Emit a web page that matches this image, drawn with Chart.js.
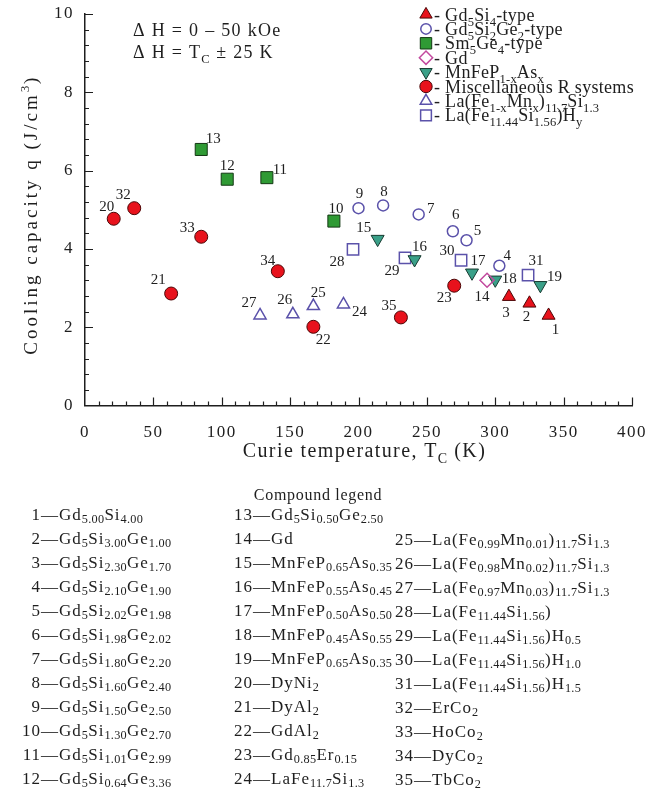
<!DOCTYPE html>
<html>
<head>
<meta charset="utf-8">
<script src="https://cdn.jsdelivr.net/npm/chart.js@4.4.1/dist/chart.umd.min.js"></script>
<style>
  body { margin: 0; background: #fff; }
  #wrap { position: relative; width: 646px; height: 470px; }
  #compounds { position: absolute; left: 0; top: 0; width: 646px; height: 800px; font-family: 'Liberation Serif', serif; color: #1e1e1e; pointer-events: none; }
  #compounds .title { position: absolute; left: 0; width: 636px; top: 486px; text-align: center; font-size: 16px; letter-spacing: 0.7px; }
  #compounds .row { position: absolute; height: 24px; line-height: 24px; font-size: 17px; letter-spacing: 1px; white-space: nowrap; }
  #compounds .num { display: inline-block; width: 20px; text-align: right; }
  #compounds sub { font-size: 72%; line-height: 0; vertical-align: -0.28em; letter-spacing: 0.3px; }
</style>
</head>
<body>
<div id="wrap"><canvas id="chart"></canvas></div>
<div id="compounds"></div>
<script>
// [compound number, Curie temperature (K), cooling capacity q (J/cm3)]
const gd5si4Type = [[1, 339, 2.30], [2, 325, 2.61], [3, 310, 2.78]];
const gd5si2ge2Type = [[4, 303, 3.57], [5, 279, 4.22], [6, 269, 4.45], [7, 244, 4.88], [8, 218, 5.11], [9, 200, 5.04]];
const sm5ge4Type = [[10, 182, 4.71], [11, 133, 5.82], [12, 104, 5.78], [13, 85, 6.54]];
const gdMetal = [[14, 294, 3.20]];
const mnFePAs = [[15, 214, 4.25], [16, 241, 3.73], [17, 283, 3.39], [18, 300, 3.21], [19, 333, 3.07]];
const miscR = [[20, 21, 4.77], [21, 63, 2.86], [22, 167, 2.01], [23, 270, 3.06], [32, 36, 5.04], [33, 85, 4.31], [34, 141, 3.43], [35, 231, 2.25]];
const laFeMnSi = [[24, 189, 2.58], [25, 167, 2.54], [26, 152, 2.33], [27, 128, 2.30]];
const laFeSiH = [[28, 196, 3.99], [29, 234, 3.77], [30, 275, 3.71], [31, 324, 3.33]];

const seriesNames = [
  'Gd_{5}Si_{4}-type',
  'Gd_{5}Si_{2}Ge_{2}-type',
  'Sm_{5}Ge_{4}-type',
  'Gd',
  'MnFeP_{1-x}As_{x}',
  'Miscellaneous R systems',
  'La(Fe_{1-x}Mn_{x})_{11.7}Si_{1.3}',
  'La(Fe_{11.44}Si_{1.56})H_{y}'
];

const fieldNotes = ['Δ H = 0 – 50 kOe', 'Δ H = T_{C} ± 25 K'];
const xTitle = 'Curie temperature, T_{C} (K)';
const yTitle = 'Cooling capacity q (J/cm^{3})';

const compoundNames = [
  'Gd_{5.00}Si_{4.00}', 'Gd_{5}Si_{3.00}Ge_{1.00}', 'Gd_{5}Si_{2.30}Ge_{1.70}', 'Gd_{5}Si_{2.10}Ge_{1.90}',
  'Gd_{5}Si_{2.02}Ge_{1.98}', 'Gd_{5}Si_{1.98}Ge_{2.02}', 'Gd_{5}Si_{1.80}Ge_{2.20}', 'Gd_{5}Si_{1.60}Ge_{2.40}',
  'Gd_{5}Si_{1.50}Ge_{2.50}', 'Gd_{5}Si_{1.30}Ge_{2.70}', 'Gd_{5}Si_{1.01}Ge_{2.99}', 'Gd_{5}Si_{0.64}Ge_{3.36}',
  'Gd_{5}Si_{0.50}Ge_{2.50}', 'Gd', 'MnFeP_{0.65}As_{0.35}', 'MnFeP_{0.55}As_{0.45}',
  'MnFeP_{0.50}As_{0.50}', 'MnFeP_{0.45}As_{0.55}', 'MnFeP_{0.65}As_{0.35}', 'DyNi_{2}',
  'DyAl_{2}', 'GdAl_{2}', 'Gd_{0.85}Er_{0.15}', 'LaFe_{11.7}Si_{1.3}',
  'La(Fe_{0.99}Mn_{0.01})_{11.7}Si_{1.3}', 'La(Fe_{0.98}Mn_{0.02})_{11.7}Si_{1.3}', 'La(Fe_{0.97}Mn_{0.03})_{11.7}Si_{1.3}',
  'La(Fe_{11.44}Si_{1.56})', 'La(Fe_{11.44}Si_{1.56})H_{0.5}', 'La(Fe_{11.44}Si_{1.56})H_{1.0}',
  'La(Fe_{11.44}Si_{1.56})H_{1.5}', 'ErCo_{2}', 'HoCo_{2}', 'DyCo_{2}', 'TbCo_{2}'
];

const FONT = "'Liberation Serif', 'Times New Roman', serif";
const INK = '#1e1e1e';

// marker styles, one per series
const seriesStyles = [
  { pointStyle: 'triangle', rotation: 0, radius: 7.5, fill: '#e8121c', edge: '#4a0606', width: 1 },
  { pointStyle: 'circle', rotation: 0, radius: 5.5, fill: 'rgba(0,0,0,0)', edge: '#5b52aa', width: 1.5 },
  { pointStyle: 'rect', rotation: 0, radius: 8.5, fill: '#2f9a34', edge: '#143814', width: 1 },
  { pointStyle: 'rectRot', rotation: 0, radius: 7, fill: 'rgba(0,0,0,0)', edge: '#c24a9e', width: 1.5 },
  { pointStyle: 'triangle', rotation: 180, radius: 7.5, fill: '#3aa088', edge: '#173a30', width: 1 },
  { pointStyle: 'circle', rotation: 0, radius: 6.5, fill: '#e8121c', edge: '#4a0606', width: 1 },
  { pointStyle: 'triangle', rotation: 0, radius: 7, fill: 'rgba(0,0,0,0)', edge: '#5b52aa', width: 1.5 },
  { pointStyle: 'rect', rotation: 0, radius: 8, fill: 'rgba(0,0,0,0)', edge: '#5b52aa', width: 1.5 }
];

// where each compound number sits relative to its marker (px)
const labelOffsets = {
  1: [7, 15], 2: [-3, 14], 3: [-3, 16], 4: [8, -10], 5: [11, -9], 6: [3, -16], 7: [12, -5],
  8: [1, -13], 9: [1, -14], 10: [2, -12], 11: [13, -8], 12: [0, -13], 13: [12, -10], 14: [-5, 17],
  15: [-14, -11], 16: [5, -12], 17: [6, -12], 18: [14, -1], 19: [14, -8], 20: [-7, -12],
  21: [-13, -13], 22: [10, 13], 23: [-10, 12], 24: [16, 8], 25: [5, -13], 26: [-8, -14],
  27: [-11, -12], 28: [-16, 13], 29: [-13, 13], 30: [-14, -9], 31: [8, -14], 32: [-11, -13],
  33: [-14, -9], 34: [-10, -10], 35: [-12, -11]
};

function richParts(str) {
  const parts = [];
  const re = /([_^])\{([^}]*)\}/g;
  let last = 0, m;
  while ((m = re.exec(str))) {
    if (m.index > last) parts.push({ t: str.slice(last, m.index), k: '' });
    parts.push({ t: m[2], k: m[1] });
    last = re.lastIndex;
  }
  if (last < str.length) parts.push({ t: str.slice(last), k: '' });
  return parts;
}

// draws text with _{sub} and ^{sup}; y is the baseline
function drawRich(ctx, str, x, y, size, align, spacing) {
  const parts = richParts(str);
  let total = 0;
  parts.forEach(p => {
    ctx.font = (p.k ? size * 0.7 : size) + 'px ' + FONT;
    ctx.letterSpacing = (p.k ? spacing * 0.5 : spacing) + 'px';
    p.w = ctx.measureText(p.t).width;
    total += p.w;
  });
  let cx = align === 'center' ? x - total / 2 : x;
  ctx.textAlign = 'left';
  ctx.textBaseline = 'alphabetic';
  parts.forEach(p => {
    ctx.font = (p.k ? size * 0.7 : size) + 'px ' + FONT;
    ctx.letterSpacing = (p.k ? spacing * 0.5 : spacing) + 'px';
    const dy = p.k === '_' ? size * 0.28 : p.k === '^' ? -size * 0.4 : 0;
    ctx.fillText(p.t, cx, y + dy);
    cx += p.w;
  });
  ctx.letterSpacing = '0px';
}

const seriesData = [gd5si4Type, gd5si2ge2Type, sm5ge4Type, gdMetal, mnFePAs, miscR, laFeMnSi, laFeSiH];

const datasets = seriesData.map((rows, i) => {
  const s = seriesStyles[i];
  return {
    label: seriesNames[i],
    ids: rows.map(r => r[0]),
    data: rows.map(r => ({ x: r[1], y: r[2] })),
    pointStyle: s.pointStyle,
    rotation: s.rotation,
    pointRadius: s.radius,
    backgroundColor: s.fill,
    borderColor: s.edge,
    borderWidth: s.width,
    showLine: false
  };
});

const decorations = {
  id: 'decorations',
  beforeDraw(chart) {
    chart.ctx.letterSpacing = '1.5px';
  },
  beforeDatasetsDraw(chart) {
    const { ctx, scales: { x, y } } = chart;
    ctx.letterSpacing = '0px';
    // inward tick marks
    ctx.save();
    ctx.strokeStyle = INK;
    ctx.lineWidth = 1.2;
    ctx.beginPath();
    for (let v = 10; v <= 400; v += 10) {
      const px = Math.round(x.getPixelForValue(v)) + 0.5;
      const len = v % 50 === 0 ? 8 : 4;
      ctx.moveTo(px, y.bottom);
      ctx.lineTo(px, y.bottom - len);
    }
    for (let i = 1; i <= 25; i++) {
      const py = Math.round(y.getPixelForValue(i * 0.4)) + 0.5;
      const len = i % 5 === 0 ? 8 : 4;
      ctx.moveTo(x.left, py);
      ctx.lineTo(x.left + len, py);
    }
    ctx.stroke();
    ctx.restore();
  },
  afterDatasetsDraw(chart) {
    const { ctx, chartArea } = chart;
    ctx.save();
    ctx.fillStyle = INK;

    // compound numbers next to markers
    ctx.font = '15px ' + FONT;
    ctx.textAlign = 'center';
    ctx.textBaseline = 'middle';
    chart.data.datasets.forEach((ds, i) => {
      chart.getDatasetMeta(i).data.forEach((el, j) => {
        const id = ds.ids[j];
        const off = labelOffsets[id] || [8, -10];
        ctx.fillText(String(id), el.x + off[0], el.y + off[1]);
      });
    });

    // series legend, top right
    chart.data.datasets.forEach((ds, i) => {
      const cy = 14.5 + i * 14.4;
      ctx.save();
      ctx.fillStyle = ds.backgroundColor;
      ctx.strokeStyle = ds.borderColor;
      ctx.lineWidth = ds.borderWidth;
      Chart.helpers.drawPoint(ctx, {
        pointStyle: ds.pointStyle,
        rotation: ds.rotation,
        radius: ds.pointRadius * 0.95,
        borderWidth: ds.borderWidth
      }, 426, cy);
      ctx.restore();
      ctx.fillStyle = INK;
      drawRich(ctx, '- ' + ds.label, 434, cy + 6, 18, 'left', 0.3);
    });

    // field notes
    drawRich(ctx, fieldNotes[0], 133, 36, 18, 'left', 1.3);
    drawRich(ctx, fieldNotes[1], 133, 58, 18, 'left', 1.3);

    // axis titles
    drawRich(ctx, xTitle, (chartArea.left + chartArea.right) / 2 + 6, 457, 20, 'center', 1.4);
    ctx.save();
    ctx.translate(37, (chartArea.top + chartArea.bottom) / 2 + 5);
    ctx.rotate(-Math.PI / 2);
    drawRich(ctx, yTitle, 0, 0, 19, 'center', 3);
    ctx.restore();

    ctx.restore();
  }
};

Chart.defaults.font.family = FONT;
Chart.defaults.color = INK;

new Chart(document.getElementById('chart'), {
  type: 'scatter',
  data: { datasets: datasets },
  options: {
    responsive: true,
    maintainAspectRatio: false,
    animation: false,
    events: [],
    layout: { padding: { top: 14, right: 14, left: 0, bottom: 0 } },
    plugins: {
      legend: { display: false },
      tooltip: { enabled: false }
    },
    scales: {
      x: {
        type: 'linear',
        min: 0,
        max: 400,
        grid: { display: false, drawTicks: false },
        border: { display: true, color: INK, width: 1.5 },
        ticks: { stepSize: 50, padding: 17, font: { size: 17 }, color: INK, maxRotation: 0 },
        afterFit(scale) {
          scale.height = 64.5;
          scale.paddingLeft = 0;
          scale.paddingRight = 0;
        }
      },
      y: {
        type: 'linear',
        min: 0,
        max: 10,
        grid: { display: false, drawTicks: false },
        border: { display: true, color: INK, width: 1.5 },
        ticks: { stepSize: 2, padding: 11, font: { size: 17 }, color: INK },
        afterFit(scale) {
          scale.width = 85;
          scale.paddingTop = 0;
          scale.paddingBottom = 0;
        }
      }
    }
  },
  plugins: [decorations]
});

// compound legend below the chart
const legendColumns = [
  { from: 1, to: 12, left: 21, top: 503 },
  { from: 13, to: 24, left: 233, top: 503 },
  { from: 25, to: 35, left: 394, top: 528 }
];

function richHtml(str) {
  return richParts(str).map(p => p.k === '_' ? '<sub>' + p.t + '</sub>' : p.k === '^' ? '<sup>' + p.t + '</sup>' : p.t).join('');
}

const box = document.getElementById('compounds');
let html = '<div class="title">Compound legend</div>';
legendColumns.forEach(col => {
  for (let id = col.from; id <= col.to; id++) {
    const top = col.top + (id - col.from) * 24;
    html += '<div class="row" style="left:' + col.left + 'px;top:' + top + 'px">' +
      '<span class="num">' + id + '</span>—' + richHtml(compoundNames[id - 1]) + '</div>';
  }
});
box.innerHTML = html;
</script>
</body>
</html>
